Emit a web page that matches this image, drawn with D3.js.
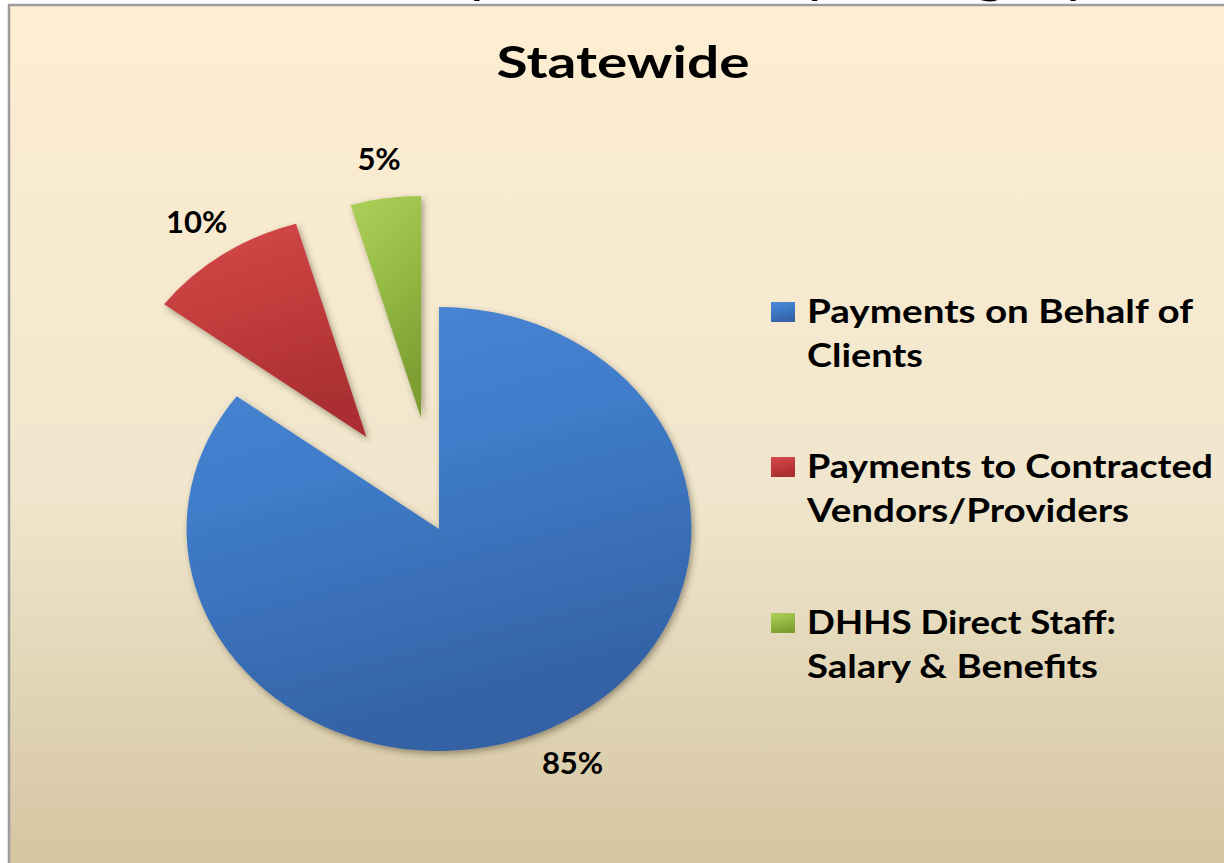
<!DOCTYPE html>
<meta charset="utf-8">
<title>Statewide</title>
<style>
body { margin: 0; background: #fff; }
svg { display: block; }
text { font-family: Lato, "Open Sans", sans-serif; font-weight: bold; fill: #000; }
</style>
<body>
<div id="chart"></div>
<script src="https://d3js.org/d3.v7.min.js"></script>
<script>
// chart values (slice sizes; labels as printed)
const categories = ["Payments on Behalf of Clients", "Payments to Contracted Vendors/Providers", "DHHS Direct Staff: Salary & Benefits"];
const legendLines = [["Payments on Behalf of", "Clients"], ["Payments to Contracted", "Vendors/Providers"], ["DHHS Direct Staff:", "Salary & Benefits"]];
const shares = [85.2, 10.3, 4.5];
const pctLabels = ["85%", "10%", "5%"];
const exploded = [false, true, true];

const width = 1224, height = 863;
const cx = 439, cy = 529;     // pie centre
const radius = 222;           // vertical radius
const sx = 1.137;             // the pie is drawn a little wider than tall
const explodeDist = 112;
const labelRadius = 262;

const colors = [
  { top: "#4b88d6", mid: "#3f7bc8", bot: "#3462a5" },
  { top: "#d64a4a", mid: "#c43d3d", bot: "#aa2f30" },
  { top: "#aed05c", mid: "#98bd45", bot: "#7e9e33" }
];

const svg = d3.select("#chart").append("svg")
    .attr("width", width)
    .attr("height", height);

const defs = svg.append("defs");

// background gradient
const bg = defs.append("linearGradient")
    .attr("id", "bg").attr("x1", 0).attr("y1", 0).attr("x2", 0).attr("y2", 1);
bg.append("stop").attr("offset", "0%").attr("stop-color", "#feeed2");
bg.append("stop").attr("offset", "55%").attr("stop-color", "#f0e6cd");
bg.append("stop").attr("offset", "100%").attr("stop-color", "#d3c49f");

// slice gradients
colors.forEach((c, i) => {
  const g = defs.append("linearGradient")
      .attr("id", "slice" + i).attr("x1", 0).attr("y1", 0).attr("x2", 0.3).attr("y2", 1);
  g.append("stop").attr("offset", "0%").attr("stop-color", c.top);
  g.append("stop").attr("offset", "45%").attr("stop-color", c.mid);
  g.append("stop").attr("offset", "100%").attr("stop-color", c.bot);
});

const shadow = defs.append("filter").attr("id", "shadow")
    .attr("x", "-20%").attr("y", "-20%").attr("width", "140%").attr("height", "140%");
shadow.append("feDropShadow")
    .attr("dx", 2).attr("dy", 3).attr("stdDeviation", 3)
    .attr("flood-color", "#3a3020").attr("flood-opacity", 0.45);

// title text of the page above, mostly cut off
svg.append("text")
    .attr("x", 404).attr("y", -9)
    .attr("textLength", 690).attr("lengthAdjust", "spacingAndGlyphs")
    .style("font-weight", "normal").style("font-size", "58px")
    .text("Expenditures by Category");

// chart area
svg.append("rect")
    .attr("x", 9).attr("y", 5)
    .attr("width", width + 20).attr("height", height + 20)
    .attr("fill", "url(#bg)")
    .attr("stroke", "#9c9c9c").attr("stroke-width", 2.5);

svg.append("text")
    .attr("x", 623).attr("y", 78)
    .attr("text-anchor", "middle")
    .attr("textLength", 253).attr("lengthAdjust", "spacingAndGlyphs")
    .style("font-size", "44px")
    .text("Statewide");

// pie
const pie = d3.pie().sort(null).value(d => d);
const arcs = pie(shares);

const arc = d3.arc()
    .innerRadius(0)
    .outerRadius(radius);

function offsetOf(d, i) {
  if (!exploded[i]) return [0, 0];
  const mid = (d.startAngle + d.endAngle) / 2;
  return [Math.sin(mid) * explodeDist * sx, -Math.cos(mid) * explodeDist];
}

svg.append("g").selectAll("g")
  .data(arcs)
  .join("g")
    .attr("transform", (d, i) => {
      const [ox, oy] = offsetOf(d, i);
      return `translate(${cx + ox},${cy + oy}) scale(${sx},1)`;
    })
  .append("path")
    .attr("d", arc)
    .attr("fill", (d, i) => `url(#slice${i})`)
    .attr("filter", "url(#shadow)");

// percentage labels
svg.append("g").selectAll("text")
  .data(arcs)
  .join("text")
    .attr("x", (d, i) => {
      const mid = (d.startAngle + d.endAngle) / 2;
      return cx + offsetOf(d, i)[0] + Math.sin(mid) * labelRadius * sx;
    })
    .attr("y", (d, i) => {
      const mid = (d.startAngle + d.endAngle) / 2;
      return cy + offsetOf(d, i)[1] - Math.cos(mid) * labelRadius;
    })
    .attr("dy", "0.35em")
    .attr("text-anchor", "middle")
    .style("font-size", "31px")
    .text((d, i) => pctLabels[i]);

// legend
const legendX = 771, legendY = [312, 467, 623], lineGap = 44;
const textWidths = [[386, 116], [406, 322], [309, 291]];

const legend = svg.append("g").selectAll("g")
  .data(categories)
  .join("g")
    .attr("transform", (d, i) => `translate(${legendX},${legendY[i]})`);

legend.append("rect")
    .attr("x", 0).attr("y", -10)
    .attr("width", 24).attr("height", 20)
    .attr("fill", (d, i) => `url(#slice${i})`);

legend.each(function(d, i) {
  const g = d3.select(this);
  legendLines[i].forEach((line, j) => {
    g.append("text")
        .attr("x", 36)
        .attr("y", j * lineGap + 11)
        .attr("textLength", textWidths[i][j])
        .attr("lengthAdjust", "spacingAndGlyphs")
        .style("font-size", "33px")
        .text(line);
  });
});
</script>
</body>
